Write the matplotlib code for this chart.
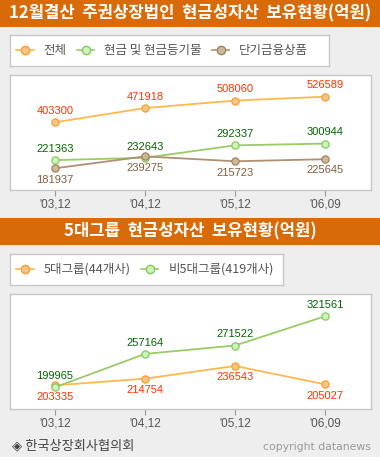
import matplotlib
matplotlib.use("Agg")
import matplotlib.pyplot as plt
from matplotlib.lines import Line2D
from matplotlib.patches import Rectangle

plt.rcParams["font.family"] = ["Noto Sans CJK KR", "DejaVu Sans"]

# ---- data ----
periods = ["'03,12", "'04,12", "'05,12", "'06,09"]

total = [403300, 471918, 508060, 526589]
cash = [221363, 232643, 292337, 300944]
short_term = [181937, 239275, 215723, 225645]

top5 = [203335, 214754, 236543, 205027]
non_top5 = [199965, 257164, 271522, 321561]

title1 = "12월결산  주권상장법인  현금성자산  보유현황(억원)"
title2 = "5대그룹  현금성자산  보유현황(억원)"
legend1 = ["전체", "현금 및 현금등기물", "단기금융상품"]
legend2 = ["5대그룹(44개사)", "비5대그룹(419개사)"]
source = "◈ 한국상장회사협의회"
copyright_text = "copyright datanews"

# ---- styles ----
W, H = 380, 457
BG = "#EEEEEE"
BAR = "#D96A08"
BORDER = "#C8C8C8"
NUM_FONT = ["Liberation Sans", "DejaVu Sans"]

ORANGE = dict(line="#FFB84D", fill="#F8C588", edge="#F5A030", text="#FF3300")
GREEN = dict(line="#99CC66", fill="#CCF5B8", edge="#88C860", text="#006600")
BROWN = dict(line="#B09070", fill="#CDB898", edge="#A08462", text="#806040")


def rect(x0, y0, x1, y1):
    return [x0 / W, 1 - y1 / H, (x1 - x0) / W, (y1 - y0) / H]


def title_bar(fig, y0, y1, text):
    fig.add_artist(Rectangle((0, 1 - y1 / H), 1, (y1 - y0) / H,
                             transform=fig.transFigure, color=BAR, lw=0))
    fig.text(0.5, 1 - (y0 + y1) / 2 / H, text, color="white", fontsize=12,
             fontweight="bold", ha="center", va="center")


def series(ax, values, st, above):
    x = range(len(values))
    ax.plot(x, values, color=st["line"], lw=1.3, marker="o", ms=5.2,
            mfc=st["fill"], mec=st["edge"], mew=0.9, zorder=3)
    for i, v in enumerate(values):
        dy = 4.5 if above else -4.5
        ax.annotate(f"{v}", (i, v), xytext=(0, dy), textcoords="offset points",
                    ha="center", va="bottom" if above else "top",
                    fontsize=8, color=st["text"], family=NUM_FONT)


def style_axes(ax, ylim):
    ax.set_facecolor("white")
    for s in ax.spines.values():
        s.set_color(BORDER)
        s.set_linewidth(1)
    ax.set_xlim(-0.5, 3.51)
    ax.set_ylim(*ylim)
    ax.set_yticks([])
    ax.set_xticks(range(len(periods)))
    ax.set_xticklabels(periods, fontsize=8.5, color="#555555",
                       family=NUM_FONT)
    ax.tick_params(axis="x", length=4, width=0.8, color="#999999", pad=2)


def legend_box(fig, box, labels, styles):
    lax = fig.add_axes(rect(*box))
    lax.set_xticks([])
    lax.set_yticks([])
    lax.set_facecolor("white")
    for s in lax.spines.values():
        s.set_color(BORDER)
        s.set_linewidth(1)
    handles = [Line2D([], [], color=st["line"], lw=1.2, marker="o", ms=6,
                      mfc=st["fill"], mec=st["edge"]) for st in styles]
    lax.legend(handles, labels, loc="center left", ncol=len(labels),
               frameon=False, fontsize=9, handlelength=1.4, handletextpad=0.8,
               columnspacing=0.8, borderaxespad=0.1, labelcolor="#555555")


fig = plt.figure(figsize=(W / 100, H / 100), dpi=100, facecolor=BG)

# ---- chart 1 ----
title_bar(fig, 0, 27, title1)
legend_box(fig, (10, 35, 329, 66), legend1, [ORANGE, GREEN, BROWN])
ax1 = fig.add_axes(rect(10, 75, 371, 190))
style_axes(ax1, (77500, 631000))
series(ax1, total, ORANGE, True)
series(ax1, cash, GREEN, True)
series(ax1, short_term, BROWN, False)

# ---- chart 2 ----
title_bar(fig, 218, 245, title2)
legend_box(fig, (10, 254, 283, 285), legend2, [ORANGE, GREEN])
ax2 = fig.add_axes(rect(10, 294, 371, 409))
style_axes(ax2, (162800, 359700))
series(ax2, top5, ORANGE, False)
series(ax2, non_top5, GREEN, True)

# ---- footer ----
fig.text(12 / W, 1 - 446 / H, source, fontsize=9.5, color="#444444",
         va="center", ha="left")
fig.text(371 / W, 1 - 447 / H, copyright_text, fontsize=7.8, color="#999999",
         va="center", ha="right", family="DejaVu Sans")

fig.savefig("out.png", dpi=100, facecolor=BG)
